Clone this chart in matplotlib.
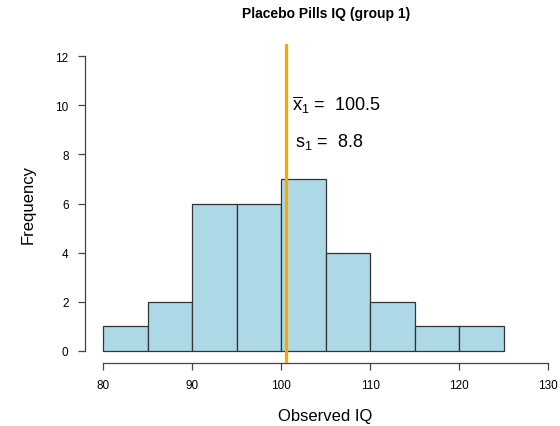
import matplotlib
matplotlib.use("Agg")
import matplotlib.pyplot as plt
import numpy as np

plt.rcParams['font.family'] = ['Liberation Sans', 'DejaVu Sans']
plt.rcParams['mathtext.fontset'] = 'custom'
plt.rcParams['mathtext.rm'] = 'Liberation Sans'
plt.rcParams['mathtext.it'] = 'Liberation Sans'

# DATOS
bin_edges = [80, 85, 90, 95, 100, 105, 110, 115, 120, 125]
counts = [1, 2, 6, 6, 7, 4, 2, 1, 1]
media = 100.5
desv = 8.8
x_ticks = [80, 90, 100, 110, 120, 130]
y_ticks = [0, 2, 4, 6, 8, 10, 12]

W, H = 560, 427
fig = plt.figure(figsize=(W / 100, H / 100), dpi=100)
# region de dibujo estilo R (4% extra a cada lado)
x0, x1, y0, y1 = 85.2, 566.0, 45.2, 363.8
ax = fig.add_axes([x0 / W, 1 - y1 / H, (x1 - x0) / W, (y1 - y0) / H])

ax.bar(bin_edges[:-1], counts, width=np.diff(bin_edges), align='edge',
       color='#ADD8E6', edgecolor='#333333', linewidth=0.9)
ax.axvline(media, color='#FFA500', linewidth=2.3, zorder=3)

ax.text(101.2, 10.05, r'$\overline{\mathrm{x}}_{1}$ =  ' + f'{media}',
        fontsize=13, va='center', ha='left')
ax.text(101.6, 8.55, r'$\mathrm{s}_{1}$ =  ' + f'{desv}',
        fontsize=13, va='center', ha='left')

ax.set_xlim(78, 132)
ax.set_ylim(-0.48, 12.48)
ax.set_xticks(x_ticks)
ax.set_yticks(y_ticks)
ax.spines['top'].set_visible(False)
ax.spines['right'].set_visible(False)
ax.spines['left'].set_bounds(0, 12)
ax.spines['bottom'].set_bounds(80, 130)
for s in ['left', 'bottom']:
    ax.spines[s].set_color('#444444')
    ax.spines[s].set_linewidth(0.9)
ax.tick_params(axis='both', length=5, width=0.9, color='#444444',
               labelsize=8.5, pad=7)

ax.set_xlabel('Observed IQ', fontsize=12, labelpad=12)
ax.set_ylabel('Frequency', fontsize=12, labelpad=14)
fig.text(326 / W, 1 - 14 / H, 'Placebo Pills IQ (group 1)', fontsize=10,
         fontweight='bold', ha='center', va='center')

plt.savefig('out.png', dpi=100)
